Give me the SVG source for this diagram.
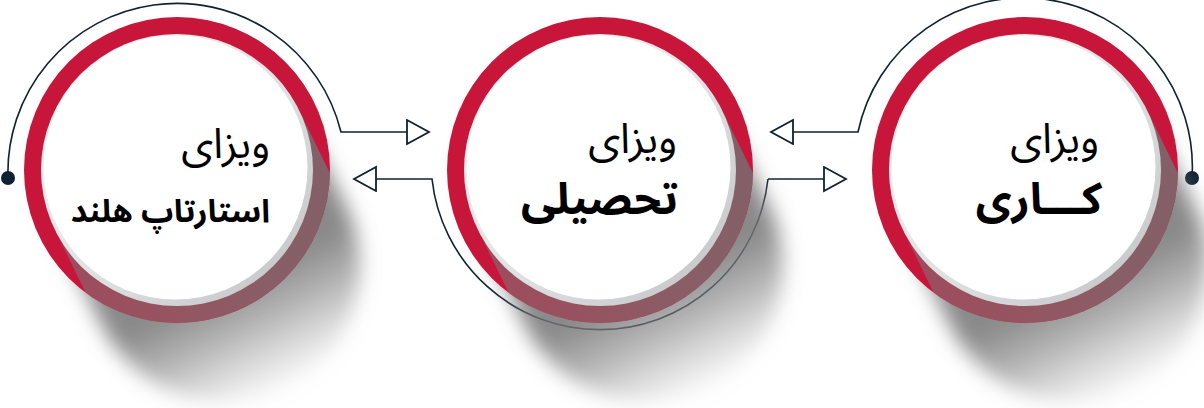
<svg xmlns="http://www.w3.org/2000/svg" width="1204" height="408" viewBox="0 0 1204 408">
<style>
.conn{fill:none;stroke:#0e2233;stroke-width:1.6}
.ring{fill:#c8153a}
.t1{font-family:'Noto Sans Arabic','DejaVu Sans',sans-serif;font-size:42px;fill:#000;text-anchor:end}
.t2{font-family:'Noto Sans Arabic','DejaVu Sans',sans-serif;font-size:44px;font-weight:bold;fill:#000;text-anchor:end}
</style>
<defs>
<marker id="arr" markerUnits="userSpaceOnUse" markerWidth="28" markerHeight="30" refX="23" refY="13" orient="auto" viewBox="0 0 28 30">
<path d="M1,1 L23,13 L1,25 Z" fill="#fff" stroke="#0e2233" stroke-width="1.8" stroke-linejoin="miter"/>
</marker>
<linearGradient id="gOut" gradientUnits="userSpaceOnUse" x1="0" y1="0" x2="110" y2="224.5">
<stop offset="0.5" stop-color="#757575" stop-opacity="0.85"/>
<stop offset="0.68" stop-color="#808080" stop-opacity="0.6"/>
<stop offset="1" stop-color="#999" stop-opacity="0"/>
</linearGradient>
<linearGradient id="gIn" gradientUnits="userSpaceOnUse" x1="-122" y1="60" x2="122" y2="-60">
<stop offset="0" stop-color="#7a7a7a" stop-opacity="0.55"/>
<stop offset="0.6" stop-color="#757575" stop-opacity="0.76"/>
<stop offset="1" stop-color="#727272" stop-opacity="0.8"/>
</linearGradient>
<linearGradient id="gEdge" x1="0" y1="0" x2="1" y2="1">
<stop offset="0" stop-color="#f4f4f4"/>
<stop offset="0.5" stop-color="#e2e3e4"/>
<stop offset="1" stop-color="#bfc1c2"/>
</linearGradient>
<filter id="blur" x="-50%" y="-50%" width="200%" height="200%">
<feGaussianBlur stdDeviation="10"/>
</filter>
<clipPath id="redClip"><circle cx="0" cy="0" r="153"/></clipPath>
<path id="sh" d="M122.1,-59.8 L170.5,39 A136,136 0 0 1 -73.7,158.6 L-122.1,59.8 A136,136 0 0 1 122.1,-59.8 Z"/>
</defs>

<g id="connectors">
<path class="conn" d="M8,178 A169,169 0 0 1 341,132 L429,132" marker-end="url(#arr)"/>
<path class="conn" d="M768,179 A169,169 0 0 1 432,179 L354,179" marker-end="url(#arr)"/>
<path class="conn" d="M768,179 L846,179" marker-end="url(#arr)"/>
<path class="conn" d="M1192,178 A169,169 0 0 0 858,132 L771,132" marker-end="url(#arr)"/>
<circle cx="8" cy="178" r="7" fill="#0e2233"/>
<circle cx="1192" cy="178" r="7" fill="#0e2233"/>
</g>

<g id="node-startup" transform="translate(177,170)">
<use href="#sh" fill="url(#gOut)" filter="url(#blur)"/>
<circle class="ring" r="153"/>
<use href="#sh" fill="url(#gIn)" clip-path="url(#redClip)"/>
<circle r="136" fill="url(#gEdge)"/>
<circle cx="-1.5" cy="-2.5" r="132" fill="#fff"/>
<text class="t1" x="93" y="-12">ویزای</text>
<text class="t2" x="93" y="52" style="font-size:32px">استارتاپ هلند</text>
</g>

<g id="node-study" transform="translate(600,170)">
<use href="#sh" fill="url(#gOut)" filter="url(#blur)"/>
<circle class="ring" r="153"/>
<use href="#sh" fill="url(#gIn)" clip-path="url(#redClip)"/>
<circle r="136" fill="url(#gEdge)"/>
<circle cx="-1.5" cy="-2.5" r="132" fill="#fff"/>
<text class="t1" x="77" y="-17">ویزای</text>
<text class="t2" x="78" y="44">تحصیلی</text>
</g>

<g id="node-work" transform="translate(1025,170)">
<use href="#sh" fill="url(#gOut)" filter="url(#blur)"/>
<circle class="ring" r="153"/>
<use href="#sh" fill="url(#gIn)" clip-path="url(#redClip)"/>
<circle r="136" fill="url(#gEdge)"/>
<circle cx="-1.5" cy="-2.5" r="132" fill="#fff"/>
<text class="t1" x="74" y="-17">ویزای</text>
<text class="t2" x="77" y="44">کـــاری</text>
</g>
</svg>
